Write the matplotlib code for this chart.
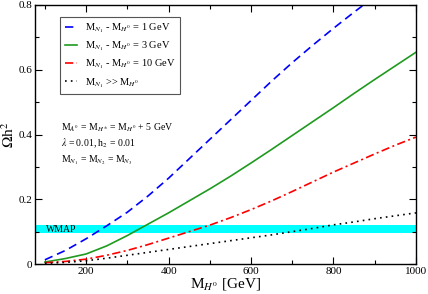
import matplotlib
matplotlib.use("Agg")
import matplotlib.pyplot as plt
from matplotlib.ticker import MultipleLocator

plt.rcParams['font.family'] = ['Liberation Serif', 'DejaVu Serif']
plt.rcParams['mathtext.fontset'] = 'stix'

# masses in GeV
mass = [100, 150, 200, 250, 300, 350, 400, 450, 500, 550, 600, 650, 700, 750, 800, 850, 900, 950, 1000]
mass_blue = [100, 150, 200, 250, 300, 350, 400, 450, 500, 550, 600, 650, 700, 750, 800, 850, 900]

omega_1gev = [0.013, 0.042, 0.078, 0.118, 0.16, 0.21, 0.265, 0.325, 0.385, 0.445, 0.505, 0.565, 0.622, 0.676, 0.728, 0.778, 0.826]
omega_3gev = [0.006, 0.017, 0.031, 0.056, 0.088, 0.123, 0.158, 0.195, 0.232, 0.271, 0.312, 0.354, 0.397, 0.44, 0.483, 0.527, 0.57, 0.612, 0.654]
omega_10gev = [0.004, 0.008, 0.015, 0.027, 0.042, 0.06, 0.08, 0.1, 0.12, 0.143, 0.168, 0.195, 0.224, 0.254, 0.284, 0.312, 0.34, 0.367, 0.392]
omega_heavy = [0.002, 0.005, 0.01, 0.018, 0.027, 0.036, 0.045, 0.054, 0.063, 0.072, 0.081, 0.09, 0.1, 0.11, 0.121, 0.13, 0.14, 0.149, 0.158]

wmap_low, wmap_high = 0.095, 0.12

fig = plt.figure(figsize=(4.28, 2.94), dpi=100)
ax = fig.add_axes([0.0818, 0.102, 0.890, 0.881])

ax.axhspan(wmap_low, wmap_high, color="#00ffff", lw=0, zorder=1)
ax.text(103, 0.1075, "WMAP", fontsize=7, va="center", ha="left", zorder=3)

ax.plot(mass_blue, omega_1gev, color="blue", lw=1.2, dashes=(5, 3),
        label=r"M$_{N_1}$ - M$_{H^0}$ = 1 GeV", zorder=2)
ax.plot(mass, omega_3gev, color="#1f9a1f", lw=1.2,
        label=r"M$_{N_1}$ - M$_{H^0}$ = 3 GeV", zorder=2)
ax.plot(mass, omega_10gev, color="red", lw=1.2, dashes=(5, 2, 1.2, 2),
        label=r"M$_{N_1}$ - M$_{H^0}$ = 10 GeV", zorder=2)
ax.plot(mass, omega_heavy, color="black", lw=1.2, dashes=(1, 2.5),
        label=r"M$_{N_1}$ >> M$_{H^0}$", zorder=2)

leg = ax.legend(loc="upper left", bbox_to_anchor=(0.066, 0.955), borderaxespad=0,
                fontsize=7.5, handlelength=1.2, handletextpad=0.7, borderpad=0.45,
                labelspacing=0.45, fancybox=False, framealpha=1)
leg.get_frame().set_edgecolor("#555555")
leg.get_frame().set_linewidth(0.8)

ax.text(138, 0.42, r"M$_{A^0}$ = M$_{H^{\pm}}$ = M$_{H^0}$ + 5 GeV", fontsize=7, va="center")
ax.text(138, 0.373, r"$\lambda$ = 0.01, h$_2$ = 0.01", fontsize=7, va="center")
ax.text(138, 0.322, r"M$_{N_1}$ = M$_{N_2}$ = M$_{N_3}$", fontsize=7, va="center")

ax.set_xlim(76, 1000)
ax.set_ylim(0, 0.8)
ax.xaxis.set_major_locator(MultipleLocator(200))
ax.xaxis.set_minor_locator(MultipleLocator(100))
ax.yaxis.set_minor_locator(MultipleLocator(0.1))
ax.set_yticks([0, 0.2, 0.4, 0.6, 0.8])
ax.set_yticklabels(["0", "0.2", "0.4", "0.6", "0.8"])
ax.tick_params(which="both", direction="in", top=True, right=True, labelsize=8, pad=2)
ax.tick_params(which="major", length=5, width=0.8)
ax.tick_params(which="minor", length=3, width=0.8)
for s in ax.spines.values():
    s.set_linewidth(1.0)

ax.set_xlabel(r"M$_{H^0}$ [GeV]", fontsize=11, labelpad=0)
ax.set_ylabel(r"$\Omega$h$^2$", fontsize=11, labelpad=1)

fig.savefig("out.png", dpi=100)
